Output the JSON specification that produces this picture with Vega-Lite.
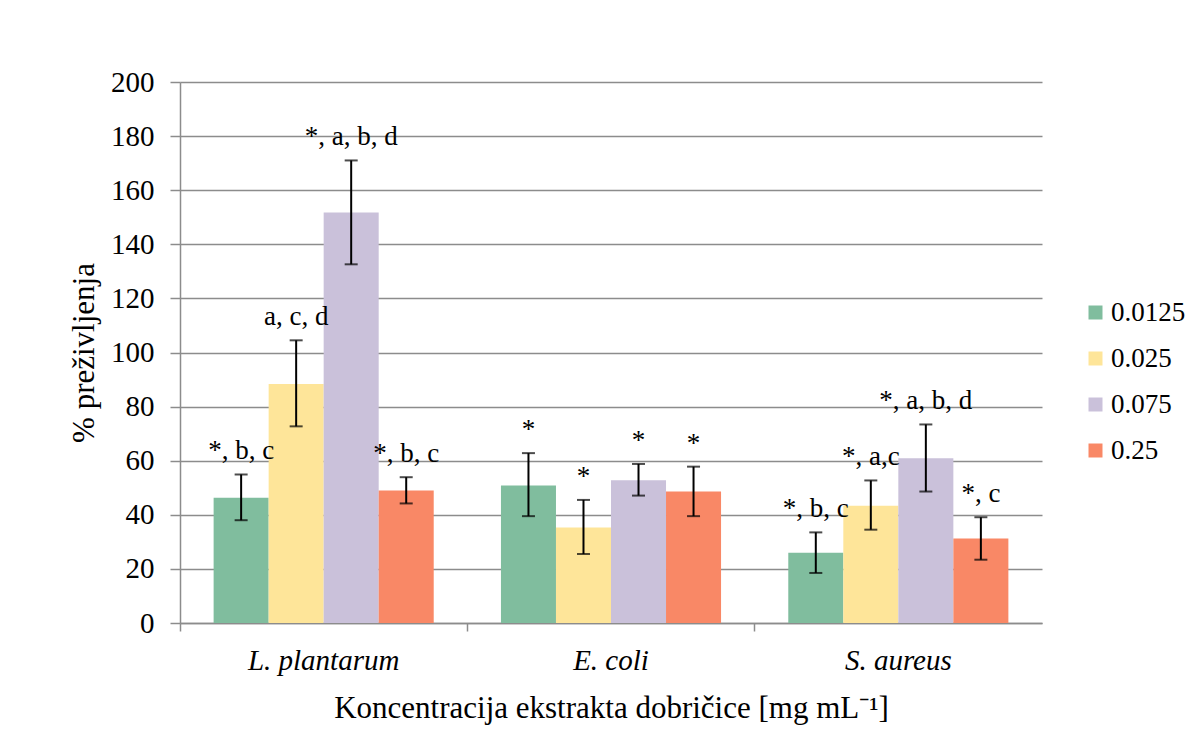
{
  "$schema": "https://vega.github.io/schema/vega-lite/v6.json",
  "width": 862,
  "height": 541,
  "autosize": "none",
  "padding": {"left": 180, "top": 82, "right": 147, "bottom": 115},
  "background": "white",
  "config": {
    "font": "Liberation Serif, Times New Roman, serif",
    "view": {"stroke": null},
    "axis": {
      "labelColor": "black",
      "titleColor": "black",
      "titleFontWeight": "normal",
      "labelFont": "Liberation Serif, Times New Roman, serif",
      "titleFont": "Liberation Serif, Times New Roman, serif"
    },
    "legend": {
      "labelFont": "Liberation Serif, Times New Roman, serif"
    }
  },
  "data": {
    "values": [
      {"species": "L. plantarum", "conc": "0.0125", "value": 46.3, "lo": 38.0, "hi": 54.9, "label": "*, b, c"},
      {"species": "L. plantarum", "conc": "0.025", "value": 88.4, "lo": 72.7, "hi": 104.5, "label": "a, c, d"},
      {"species": "L. plantarum", "conc": "0.075", "value": 151.8, "lo": 132.6, "hi": 171.0, "label": "*, a, b, d"},
      {"species": "L. plantarum", "conc": "0.25", "value": 49.0, "lo": 44.2, "hi": 53.9, "label": "*, b, c"},
      {"species": "E. coli", "conc": "0.0125", "value": 50.8, "lo": 39.5, "hi": 62.8, "label": "*"},
      {"species": "E. coli", "conc": "0.025", "value": 35.3, "lo": 25.5, "hi": 45.5, "label": "*"},
      {"species": "E. coli", "conc": "0.075", "value": 52.8, "lo": 47.1, "hi": 58.8, "label": "*"},
      {"species": "E. coli", "conc": "0.25", "value": 48.6, "lo": 39.5, "hi": 57.8, "label": "*"},
      {"species": "S. aureus", "conc": "0.0125", "value": 26.0, "lo": 18.5, "hi": 33.5, "label": "*, b, c"},
      {"species": "S. aureus", "conc": "0.025", "value": 43.3, "lo": 34.5, "hi": 52.7, "label": "*, a,c"},
      {"species": "S. aureus", "conc": "0.075", "value": 60.9, "lo": 48.6, "hi": 73.4, "label": "*, a, b, d"},
      {"species": "S. aureus", "conc": "0.25", "value": 31.2, "lo": 23.4, "hi": 39.1, "label": "*, c"}
    ]
  },
  "encoding": {
    "x": {
      "field": "species",
      "type": "nominal",
      "sort": ["L. plantarum", "E. coli", "S. aureus"],
      "scale": {"paddingInner": 0.234, "paddingOuter": 0.117},
      "axis": {
        "title": "Koncentracija ekstrakta dobričice [mg mL⁻¹]",
        "titleFontSize": 31,
        "titlePadding": 18,
        "labelFontStyle": "italic",
        "labelFontSize": 29,
        "labelAngle": 0,
        "labelPadding": 15,
        "tickSize": 8,
        "tickColor": "#8c8c8c",
        "tickWidth": 1.5,
        "domainColor": "#8c8c8c",
        "domainWidth": 1.5,
        "bandPosition": -0.1527,
        "grid": false
      }
    },
    "xOffset": {
      "field": "conc",
      "type": "nominal",
      "sort": ["0.0125", "0.025", "0.075", "0.25"],
      "scale": {"paddingInner": 0, "paddingOuter": 0}
    }
  },
  "layer": [
    {
      "mark": {"type": "bar"},
      "encoding": {
        "y": {
          "field": "value",
          "type": "quantitative",
          "scale": {"domain": [0, 200], "nice": false},
          "axis": {
            "title": "% preživljenja",
            "titleFontSize": 31,
            "titlePadding": 10,
            "values": [0, 20, 40, 60, 80, 100, 120, 140, 160, 180, 200],
            "labelFontSize": 29,
            "labelPadding": 16,
            "tickSize": 10,
            "tickColor": "#8c8c8c",
            "tickWidth": 1.5,
            "domainColor": "#8c8c8c",
            "domainWidth": 1.5,
            "grid": true,
            "gridColor": "#8c8c8c",
            "gridWidth": 1.5
          }
        },
        "color": {
          "field": "conc",
          "type": "nominal",
          "sort": ["0.0125", "0.025", "0.075", "0.25"],
          "scale": {
            "domain": ["0.0125", "0.025", "0.075", "0.25"],
            "range": ["#80BD9E", "#FEE599", "#CAC1DA", "#F98866"]
          },
          "legend": {
            "title": null,
            "orient": "none",
            "legendX": 902,
            "legendY": 217,
            "padding": 0,
            "symbolType": "square",
            "symbolSize": 196,
            "symbolStrokeWidth": 0,
            "labelFontSize": 27,
            "labelColor": "black",
            "labelOffset": 2,
            "rowPadding": 18
          }
        }
      }
    },
    {
      "mark": {"type": "rule", "color": "black", "strokeWidth": 2},
      "encoding": {
        "y": {"field": "lo", "type": "quantitative", "axis": {"title": "% preživljenja"}},
        "y2": {"field": "hi"}
      }
    },
    {
      "mark": {"type": "tick", "color": "black", "thickness": 2, "size": 13},
      "encoding": {
        "y": {"field": "lo", "type": "quantitative", "axis": {"title": "% preživljenja"}}
      }
    },
    {
      "mark": {"type": "tick", "color": "black", "thickness": 2, "size": 13},
      "encoding": {
        "y": {"field": "hi", "type": "quantitative", "axis": {"title": "% preživljenja"}}
      }
    },
    {
      "mark": {"type": "text", "baseline": "alphabetic", "dy": -15, "fontSize": 27, "color": "black", "font": "Liberation Serif, Times New Roman, serif"},
      "encoding": {
        "y": {"field": "hi", "type": "quantitative", "axis": {"title": "% preživljenja"}},
        "text": {"field": "label"}
      }
    }
  ]
}
